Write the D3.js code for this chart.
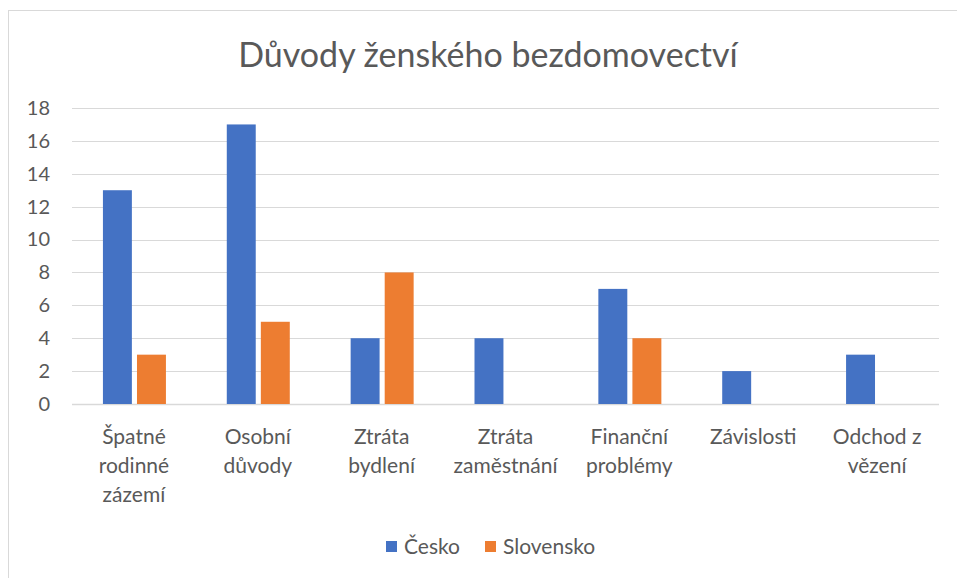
<!DOCTYPE html>
<html>
<head>
<meta charset="utf-8">
<script src="https://cdn.jsdelivr.net/npm/d3@7"></script>
<style>
  body { margin: 0; background: #fff; }
  svg { font-family: Lato, "Open Sans", sans-serif; }
</style>
</head>
<body>
<div id="chart"></div>
<script>
const categories = [
    ["Špatné", "rodinné", "zázemí"],
    ["Osobní", "důvody"],
    ["Ztráta", "bydlení"],
    ["Ztráta", "zaměstnání"],
    ["Finanční", "problémy"],
    ["Závislosti"],
    ["Odchod z", "vězení"]
];
const cesko = [13, 17, 4, 4, 7, 2, 3];
const slovensko = [3, 5, 8, 0, 4, 0, 0];
const seriesNames = ["Česko", "Slovensko"];
const colors = ["#4472c4", "#ed7d31"];
const yTicks = [0, 2, 4, 6, 8, 10, 12, 14, 16, 18];

const W = 957, H = 578;
const margin = {top: 108, right: 18, bottom: 174, left: 72};
const width = W - margin.left - margin.right;
const height = H - margin.top - margin.bottom;

const root = d3.select("#chart").append("svg")
    .attr("width", W).attr("height", H);

// rámeček grafu
root.append("rect")
    .attr("x", 8.5).attr("y", 10.5)
    .attr("width", W).attr("height", H)
    .attr("fill", "none").attr("stroke", "#d9d9d9").attr("stroke-width", 1);

root.append("text")
    .attr("x", 488).attr("y", 67)
    .attr("text-anchor", "middle")
    .attr("fill", "#595959")
    .style("font-size", "34px")
    .text("Důvody ženského bezdomovectví");

const svg = root.append("g").attr("transform", `translate(${margin.left},${margin.top})`);

const x0 = d3.scaleBand().domain(d3.range(categories.length)).range([0, width]);
const x1 = d3.scaleBand().domain([0, 1]).range([x0.bandwidth() / 2 - 31, x0.bandwidth() / 2 + 32]).paddingInner(0.15);
const y = d3.scaleLinear().domain([0, 18]).range([height, 0]);

// mřížka
svg.append("g").selectAll("line").data(yTicks).join("line")
    .attr("x1", 0).attr("x2", width)
    .attr("y1", d => Math.round(y(d)) + 0.5).attr("y2", d => Math.round(y(d)) + 0.5)
    .attr("stroke", "#d9d9d9").attr("stroke-width", d => d === 0 ? 1.5 : 1);

const yAxis = svg.append("g")
    .call(d3.axisLeft(y).tickValues(yTicks).tickSize(0).tickPadding(22));
yAxis.select(".domain").remove();
yAxis.selectAll("text").attr("fill", "#595959").style("font-size", "20px").style("font-family", "Lato, sans-serif");

const data = cesko.map((v, i) => [v, slovensko[i]]);
const groups = svg.append("g").selectAll("g").data(data).join("g")
    .attr("transform", (d, i) => `translate(${x0(i)},0)`);
groups.selectAll("rect").data(d => d.map((v, s) => ({v, s}))).join("rect")
    .attr("x", d => x1(d.s))
    .attr("width", x1.bandwidth())
    .attr("y", d => y(d.v))
    .attr("height", d => height - y(d.v))
    .attr("fill", d => colors[d.s]);

// popisky kategorií
const labels = svg.append("g").selectAll("text").data(categories).join("text")
    .attr("text-anchor", "middle")
    .attr("fill", "#595959")
    .style("font-size", "21px")
    .attr("transform", (d, i) => `translate(${x0(i) + x0.bandwidth() / 2},${height + 40})`);
labels.selectAll("tspan").data(d => d).join("tspan")
    .attr("x", 0).attr("dy", (d, i) => i === 0 ? 0 : 29)
    .text(d => d);

// legenda
const legendX = [386, 485];
const legend = root.append("g").selectAll("g").data(seriesNames).join("g")
    .attr("transform", (d, i) => `translate(${legendX[i]},541)`);
legend.append("rect").attr("width", 11).attr("height", 11).attr("fill", (d, i) => colors[i]);
legend.append("text").attr("x", 18).attr("y", 13)
    .attr("fill", "#595959").style("font-size", "21px").text(d => d);
</script>
</body>
</html>
